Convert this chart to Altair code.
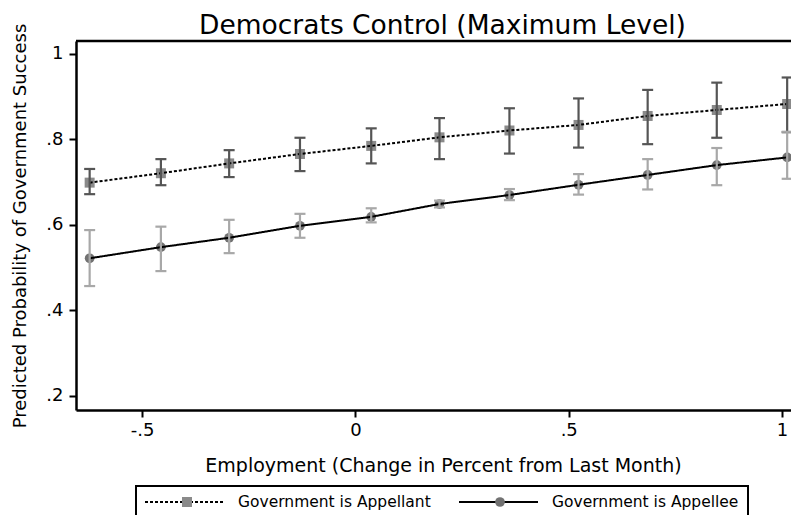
import altair as alt
import pandas as pd

# ---- data ----
employment = [-0.623, -0.456, -0.296, -0.130, 0.037, 0.197, 0.361, 0.523, 0.685, 0.847, 1.012]
appellant = [0.699, 0.721, 0.744, 0.766, 0.785, 0.805, 0.821, 0.834, 0.855, 0.869, 0.883]
appellant_lo = [0.672, 0.693, 0.712, 0.726, 0.744, 0.754, 0.767, 0.781, 0.789, 0.804, 0.817]
appellant_hi = [0.731, 0.754, 0.775, 0.804, 0.826, 0.850, 0.873, 0.896, 0.916, 0.933, 0.945]
appellee = [0.522, 0.548, 0.570, 0.598, 0.619, 0.649, 0.670, 0.694, 0.717, 0.740, 0.758]
appellee_lo = [0.457, 0.492, 0.534, 0.570, 0.606, 0.641, 0.658, 0.671, 0.683, 0.693, 0.708]
appellee_hi = [0.588, 0.596, 0.612, 0.626, 0.639, 0.657, 0.684, 0.719, 0.754, 0.780, 0.818]
x_ticks = [-0.5, 0, 0.5, 1]
y_ticks = [0.2, 0.4, 0.6, 0.8, 1.0]
series_names = ["Government is Appellant", "Government is Appellee"]

FONT = "DejaVu Sans"
W, H = 715, 369

app_df = pd.DataFrame({"x": employment, "y": appellant, "lo": appellant_lo, "hi": appellant_hi})
ape_df = pd.DataFrame({"x": employment, "y": appellee, "lo": appellee_lo, "hi": appellee_hi})

xscale = alt.Scale(domain=[-0.655, 1.021], nice=False, zero=False)
yscale = alt.Scale(domain=[0.167, 1.0304], nice=False, zero=False)

label_expr = "(datum.value < 0 ? '-' : '') + replace(toString(abs(datum.value)), '0.', '.')"

x_axis = alt.Axis(
    values=x_ticks, labelExpr=label_expr, grid=False, labelFlush=False,
    labelFontSize=18, labelFont=FONT, labelColor="black", labelPadding=4,
    tickSize=7, tickWidth=2, tickColor="black",
    domainWidth=2.5, domainColor="black",
    title="Employment (Change in Percent from Last Month)",
    titleFont=FONT, titleFontSize=19, titleFontWeight="normal", titleColor="black",
    titleX=367, titleY=55, titleAlign="center", titleBaseline="middle",
)
y_axis = alt.Axis(
    values=y_ticks, labelExpr=label_expr, grid=False,
    labelFontSize=18, labelFont=FONT, labelColor="black", labelPadding=6,
    tickSize=7, tickWidth=2, tickColor="black",
    domainWidth=2.5, domainColor="black",
    title="Predicted Probability of Government Success",
    titleFont=FONT, titleFontSize=18, titleFontWeight="normal", titleColor="black",
    titleX=-56, titleY=H / 2, titleAngle=270, titleAlign="center", titleBaseline="middle",
)

X = alt.X("x:Q", scale=xscale, axis=x_axis)


def Y(field):
    return alt.Y(f"{field}:Q", scale=yscale, axis=y_axis)


def series_layers(df, shape, size, marker_color, bar_color, dash):
    base = alt.Chart(df)
    pts = base.mark_point(shape=shape, filled=True, size=size, color=marker_color, opacity=1).encode(x=X, y=Y("y"))
    line = base.mark_line(color="black", strokeWidth=2, strokeDash=dash).encode(x=X, y=Y("y"))
    bars = base.mark_rule(color=bar_color, strokeWidth=2.2).encode(x=X, y=Y("lo"), y2="hi:Q")
    cap_lo = base.mark_tick(orient="horizontal", size=11, thickness=2.2, color=bar_color, opacity=1).encode(x=X, y=Y("lo"))
    cap_hi = base.mark_tick(orient="horizontal", size=11, thickness=2.2, color=bar_color, opacity=1).encode(x=X, y=Y("hi"))
    return [pts, line, bars, cap_lo, cap_hi]


app_layers = series_layers(app_df, "square", 100, "#8a8a8a", "#555555", [3, 2])
ape_layers = series_layers(ape_df, "circle", 95, "#727272", "#a8a8a8", [1, 0])

one = alt.Data(values=[{}])

top_border = alt.Chart(one).mark_rule(color="black", strokeWidth=2.5).encode(
    x=alt.value(0), x2=alt.value(W), y=alt.value(0)
)

# ---- manual legend (positions in view pixels) ----
LY = 461
legend_box = alt.Chart(one).mark_rect(fill="white", stroke="black", strokeWidth=2).encode(
    x=alt.value(60), x2=alt.value(672), y=alt.value(445), y2=alt.value(481)
)
leg1_line = alt.Chart(one).mark_rule(color="black", strokeWidth=2, strokeDash=[3, 2]).encode(
    x=alt.value(69), x2=alt.value(147), y=alt.value(LY)
)
leg1_pt = alt.Chart(one).mark_point(shape="square", filled=True, size=100, color="#8a8a8a", opacity=1).encode(
    x=alt.value(111), y=alt.value(LY)
)
leg1_txt = alt.Chart(one).mark_text(
    text=series_names[0], font=FONT, fontSize=15.5, align="left", baseline="middle", color="black"
).encode(x=alt.value(162), y=alt.value(LY))
leg2_line = alt.Chart(one).mark_rule(color="black", strokeWidth=2).encode(
    x=alt.value(383), x2=alt.value(462), y=alt.value(LY)
)
leg2_pt = alt.Chart(one).mark_point(shape="circle", filled=True, size=95, color="#727272", opacity=1).encode(
    x=alt.value(424), y=alt.value(LY)
)
leg2_txt = alt.Chart(one).mark_text(
    text=series_names[1], font=FONT, fontSize=15.5, align="left", baseline="middle", color="black"
).encode(x=alt.value(476), y=alt.value(LY))

chart = alt.layer(
    *app_layers, *ape_layers, top_border,
    legend_box, leg1_line, leg1_pt, leg1_txt, leg2_line, leg2_pt, leg2_txt,
).properties(
    width=W, height=H,
    title=alt.Title("Democrats Control (Maximum Level)", font=FONT, fontSize=26.5, fontWeight="normal",
                    color="black", anchor="middle", dx=9, offset=-16),
    autosize=alt.AutoSizeParams(type="none"),
    padding={"left": 68, "top": 33, "right": 0, "bottom": 105},
).configure_view(stroke=None).configure(background="white")

chart.save("out.html", embed_options={"renderer": "svg", "actions": False})
